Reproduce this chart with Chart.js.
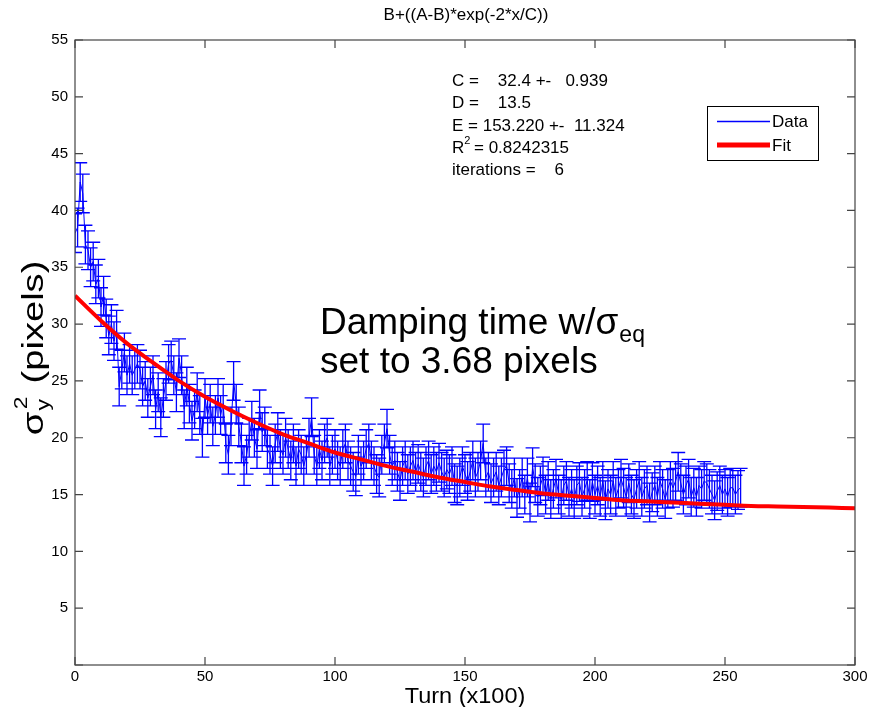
<!DOCTYPE html>
<html>
<head>
<meta charset="utf-8">
<script src="https://cdn.jsdelivr.net/npm/chart.js@4.4.1/dist/chart.umd.min.js"></script>
<style>
html,body{margin:0;padding:0;background:#fff;}
#wrap{width:872px;height:707px;}
</style>
</head>
<body>
<div id="wrap"><canvas id="c" width="872" height="707"></canvas></div>
<script>
// ---- data ----
const dataValues = [
38.0,38.5,42.5,41.5,37.0,36.5,35.0,35.5,33.5,34.0,
31.5,32.5,30.5,29.0,30.0,28.5,29.5,24.5,26.0,27.5,
25.5,26.5,25.5,26.0,26.5,26.0,24.5,25.0,23.5,24.5,
25.5,22.5,24.0,21.8,23.5,25.0,26.5,26.8,25.5,24.0,
27.0,25.5,22.5,24.5,23.0,21.5,22.5,24.0,22.0,20.0,
23.5,22.0,23.0,21.0,22.0,23.5,22.0,23.0,19.5,18.5,
21.0,25.0,23.0,21.0,19.5,17.5,18.5,20.0,21.5,20.0,
19.0,22.5,20.5,21.0,19.0,18.5,17.5,19.5,20.5,19.0,
18.5,20.0,19.0,18.0,19.5,17.5,19.0,18.5,17.5,18.5,
20.0,21.8,18.5,17.5,19.0,18.0,19.5,20.0,17.5,18.5,
19.0,18.0,17.5,19.0,19.5,18.0,17.5,17.0,16.6,18.5,
17.5,18.0,19.0,19.5,18.0,17.5,16.8,16.5,18.5,19.5,
20.8,18.5,17.5,18.0,17.0,16.2,17.5,18.0,16.8,17.5,
18.0,17.0,17.7,17.0,16.5,17.5,18.0,16.8,17.5,17.0,
17.8,17.0,16.5,17.2,16.8,17.5,16.0,15.8,16.5,17.5,
16.8,16.2,17.0,18.0,16.5,17.0,18.0,19.5,16.5,17.0,
16.0,16.5,17.0,15.8,16.5,17.2,17.5,16.0,15.5,16.5,
14.7,15.5,16.5,15.0,16.5,14.3,17.4,16.0,14.8,15.8,
16.6,15.0,16.2,14.6,15.5,16.4,15.0,14.6,15.8,16.2,
14.8,15.5,14.6,15.8,16.1,14.8,15.5,16.2,14.6,16.1,
15.0,15.8,14.8,16.2,14.5,15.5,15.0,16.2,14.8,15.5,
16.4,15.6,14.8,16.0,15.0,14.6,15.5,16.2,14.8,15.5,
15.8,14.3,15.2,15.8,14.8,16.2,15.5,14.6,15.5,16.2,
15.6,16.2,17.0,16.0,15.0,15.8,16.4,14.8,15.6,14.8,
15.8,15.5,16.2,16.0,15.5,15.0,14.5,15.3,15.8,15.0,
15.5,14.8,15.6,15.6,15.0,15.4,15.6
];
const dataErr = 1.7;
const fitX = [0,10,20,30,40,50,60,70,80,90,100,110,120,130,140,150,160,170,180,190,200,210,220,230,240,250,260,270,280,290,300];
const fitY = [32.5,30.3,28.3,26.6,25.0,23.6,22.4,21.3,20.3,19.5,18.7,18.1,17.5,17.0,16.5,16.1,15.7,15.4,15.1,14.9,14.7,14.5,14.4,14.3,14.2,14.1,14.0,13.95,13.9,13.85,13.8];
const xTicks = [0,50,100,150,200,250,300];
const yTicks = [0,5,10,15,20,25,30,35,40,45,50,55];
const titleText = "B+((A-B)*exp(-2*x/C))";
const fitInfo = ["C =    32.4 +-   0.939","D =    13.5","E = 153.220 +-  11.324","R2 = 0.8242315","iterations =    6"];
const legendLabels = ["Data","Fit"];

const dataPts = dataValues.map((v,i)=>({x:i,y:v}));
const fitPts = fitX.map((x,i)=>({x:x,y:fitY[i]}));
const FONT = '"Liberation Sans", Arial, sans-serif';
const BLUE = '#0000ff', RED = '#ff0000';

const errPlugin = {
  id:'errbars',
  afterDatasetDraw(chart,args){
    if(args.index!==0) return;
    const ctx=chart.ctx, xs=chart.scales.x, ys=chart.scales.y;
    ctx.save();
    ctx.beginPath();
    ctx.rect(chart.chartArea.left,chart.chartArea.top,chart.chartArea.width,chart.chartArea.height);
    ctx.clip();
    ctx.strokeStyle=BLUE;
    ctx.lineWidth=1.3;
    ctx.beginPath();
    dataPts.forEach(p=>{
      const px=xs.getPixelForValue(p.x);
      const t=ys.getPixelForValue(p.y+dataErr), b=ys.getPixelForValue(p.y-dataErr);
      ctx.moveTo(px,t);ctx.lineTo(px,b);
      ctx.moveTo(px-7,t);ctx.lineTo(px+7,t);
      ctx.moveTo(px-7,b);ctx.lineTo(px+7,b);
    });
    ctx.stroke();
    ctx.restore();
  }
};

const decoPlugin = {
  id:'deco',
  afterDraw(chart){
    const ctx=chart.ctx, a=chart.chartArea, xs=chart.scales.x, ys=chart.scales.y;
    ctx.save();
    ctx.strokeStyle='#444';
    ctx.lineWidth=1.2;
    ctx.strokeRect(a.left,a.top,a.width,a.height);
    ctx.beginPath();
    xTicks.forEach(v=>{const p=xs.getPixelForValue(v);
      ctx.moveTo(p,a.bottom);ctx.lineTo(p,a.bottom-8);
      ctx.moveTo(p,a.top);ctx.lineTo(p,a.top+8);});
    yTicks.forEach(v=>{const p=ys.getPixelForValue(v);
      ctx.moveTo(a.left,p);ctx.lineTo(a.left+8,p);
      ctx.moveTo(a.right,p);ctx.lineTo(a.right-8,p);});
    ctx.stroke();

    ctx.fillStyle='#000';
    ctx.textAlign='center';ctx.textBaseline='middle';
    ctx.font='17px '+FONT;
    ctx.fillText(titleText,466,15);
    ctx.font='21px '+FONT;
    ctx.save();
    ctx.translate(465,697);ctx.scale(1.12,1.05);
    ctx.fillText("Turn (x100)",0,0);
    ctx.restore();

    // y title rotated
    ctx.save();
    ctx.translate(33,348);
    ctx.rotate(-Math.PI/2);
    ctx.scale(1.27,1);
    ctx.textAlign='left';ctx.textBaseline='alphabetic';
    const big='30px '+FONT, small='18px '+FONT;
    ctx.font=big; const wS=ctx.measureText('σ').width;
    ctx.font=small; const wy=ctx.measureText('y').width; const w2=ctx.measureText('2').width;
    ctx.font=big; const wP=ctx.measureText(' (pixels)').width;
    const tot=wS+Math.max(wy,w2)+4+wP;
    let x0=-tot/2, base=10;
    ctx.font=big; ctx.fillText('σ',x0,base);
    ctx.font=small; ctx.fillText('y',x0+wS+1,base+6); ctx.fillText('2',x0+wS+2,base-16);
    ctx.font=big; ctx.fillText(' (pixels)',x0+wS+Math.max(wy,w2)+4,base);
    ctx.restore();

    // fit info text
    ctx.textAlign='left';ctx.textBaseline='middle';
    const F='17px '+FONT;
    ctx.font=F;
    const lx=452, ly=[81,103,126,148,170];
    fitInfo.forEach((t,i)=>{
      if(i===3){
        ctx.fillText('R',lx,ly[i]);
        const wr=ctx.measureText('R').width;
        ctx.font='11px '+FONT; ctx.fillText('2',lx+wr,ly[i]-7);
        ctx.font=F; ctx.fillText(' = 0.8242315',lx+wr+5,ly[i]);
      } else ctx.fillText(t,lx,ly[i]);
    });

    // legend
    ctx.fillStyle='#fff';
    ctx.fillRect(707,106,111,55);
    ctx.strokeStyle='#000';ctx.lineWidth=1;
    ctx.strokeRect(707.5,106.5,111,54);
    ctx.strokeStyle=BLUE;ctx.lineWidth=1.4;
    ctx.beginPath();ctx.moveTo(717,121.5);ctx.lineTo(770,121.5);ctx.stroke();
    ctx.strokeStyle=RED;ctx.lineWidth=5;
    ctx.beginPath();ctx.moveTo(717,145);ctx.lineTo(770,145);ctx.stroke();
    ctx.fillStyle='#000';ctx.font='17px '+FONT;
    ctx.fillText(legendLabels[0],772,122);
    ctx.fillText(legendLabels[1],772,146);

    // big annotation
    ctx.textBaseline='alphabetic';
    ctx.font='37px '+FONT;
    const s1='Damping time w/σ';
    ctx.fillText(s1,320,334);
    const w1=ctx.measureText(s1).width;
    ctx.font='23px '+FONT; ctx.fillText('eq',320+w1+1,342);
    ctx.font='37px '+FONT; ctx.fillText('set to 3.68 pixels',320,373);
    ctx.restore();
  }
};

new Chart(document.getElementById('c'),{
  type:'scatter',
  data:{datasets:[
    {label:legendLabels[0],data:dataPts,showLine:true,borderColor:BLUE,borderWidth:1,pointRadius:0,order:2},
    {label:legendLabels[1],data:fitPts,showLine:true,borderColor:RED,borderWidth:4,pointRadius:0,cubicInterpolationMode:'monotone',order:1}
  ]},
  options:{
    responsive:false,animation:false,
    layout:{padding:{left:0,right:17,top:40,bottom:0}},
    plugins:{legend:{display:false},title:{display:false},tooltip:{enabled:false}},
    scales:{
      x:{type:'linear',min:0,max:300,
        afterFit(s){s.height=42;s.paddingLeft=0;s.paddingRight=0;},
        afterBuildTicks(s){s.ticks=xTicks.map(v=>({value:v}));},
        grid:{display:false,drawTicks:false},border:{display:false},
        ticks:{padding:3,color:'#000',font:{family:FONT,size:15},maxRotation:0}},
      y:{type:'linear',min:0,max:55,
        afterFit(s){s.width=75;s.paddingTop=0;s.paddingBottom=0;},
        afterBuildTicks(s){s.ticks=yTicks.map(v=>({value:v}));},
        grid:{display:false,drawTicks:false},border:{display:false},
        ticks:{padding:7,color:'#000',font:{family:FONT,size:15},callback:v=>v===0?'':v}}
    }
  },
  plugins:[errPlugin,decoPlugin]
});
</script>
</body>
</html>
